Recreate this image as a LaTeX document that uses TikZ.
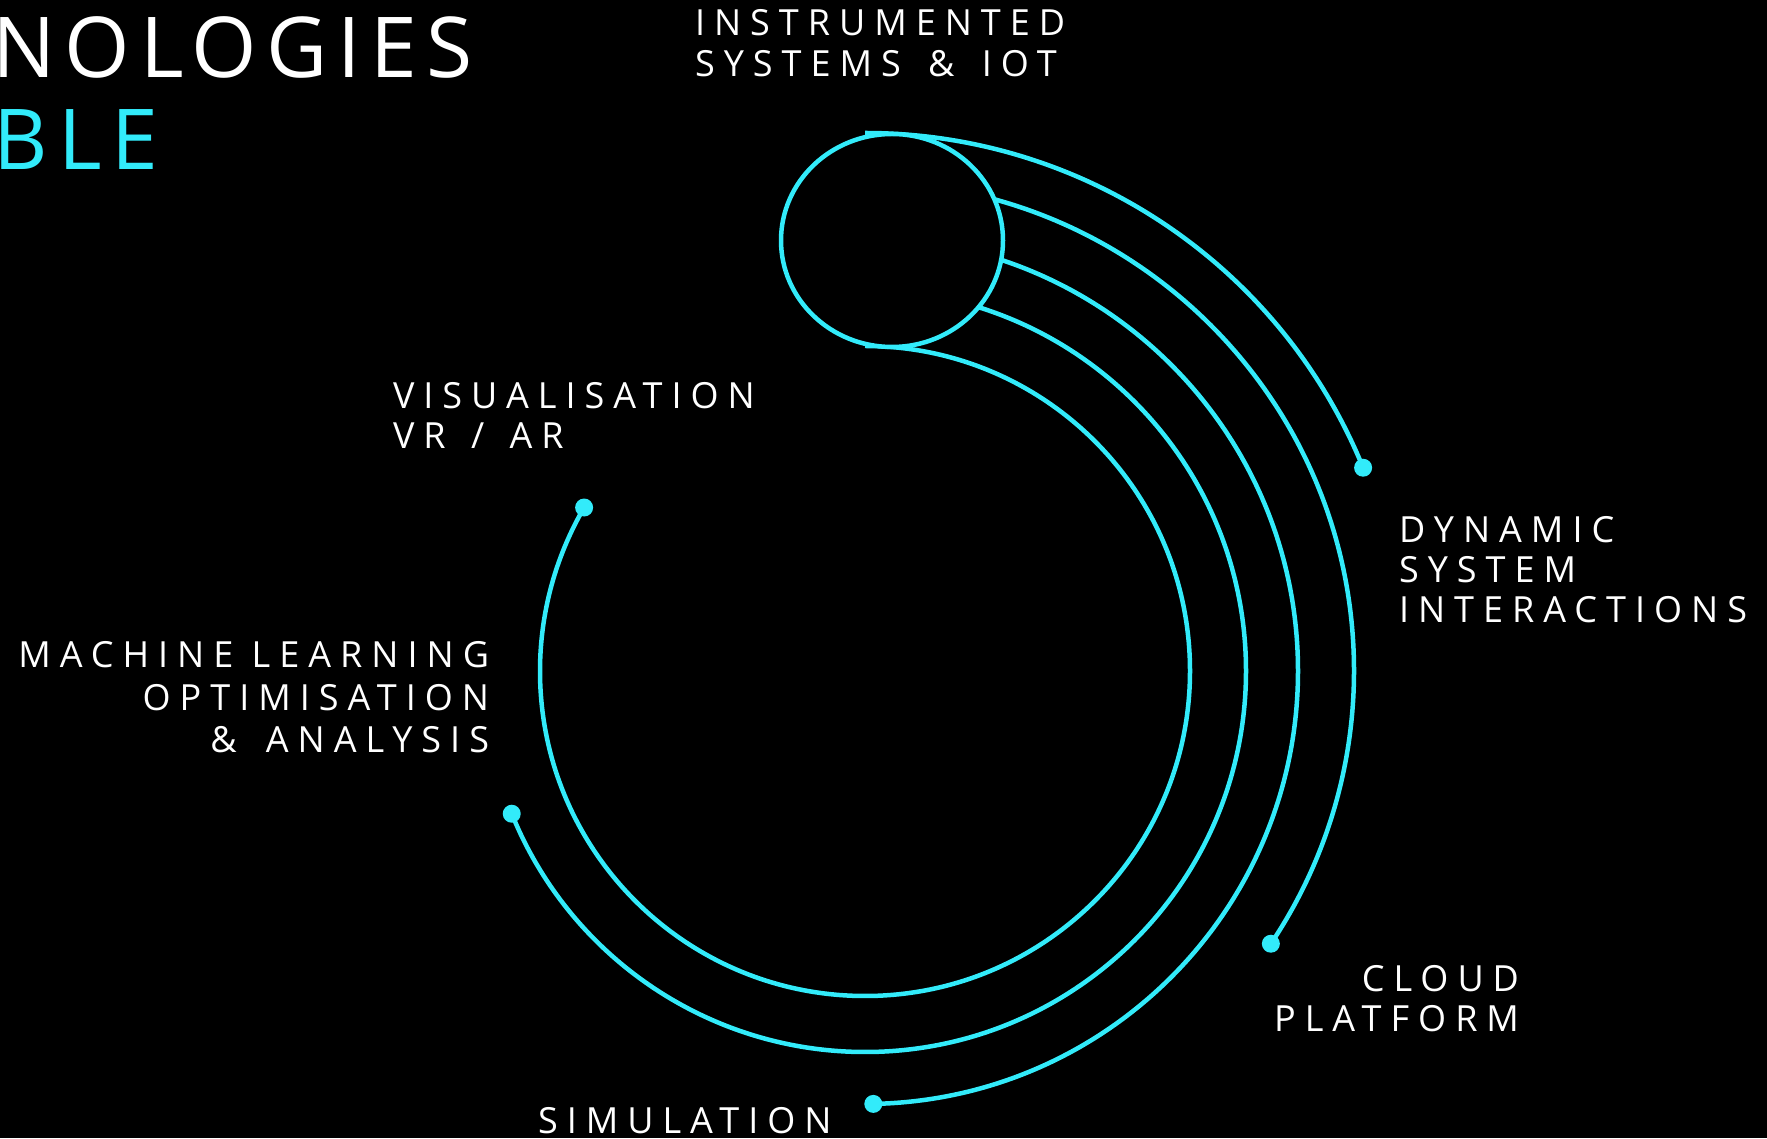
\documentclass[tikz,border=0pt]{standalone}
\usepackage{fontspec}
\setmainfont{Open Sans}
\newfontfamily\lblfont[LetterSpace=25]{Open Sans}
\newfontfamily\ttlfont[LetterSpace=11.5]{Open Sans}
\usetikzlibrary{shapes.geometric,calc}
\definecolor{cy}{RGB}{50,235,250}
\newcommand{\wsp}[1][11pt]{\hspace{#1}}
\begin{document}
\begin{tikzpicture}[x=1pt,y=1pt,
  lbl/.style={font=\lblfont\fontsize{36}{41}\selectfont, text=white, inner sep=0pt, outer sep=0pt},
  ttl/.style={font=\ttlfont\fontsize{84}{90}\selectfont, inner sep=0pt, outer sep=0pt},
  arcline/.style={draw=cy, line width=4.5pt},
  enddot/.style={circle, fill=cy, minimum size=18pt, inner sep=0pt},
  hubstyle/.style={ellipse, draw=cy, line width=4.5pt, fill=black, minimum width=222pt, minimum height=213pt, inner sep=0pt}
]
\fill[black] (0,0) rectangle (1767,1138);
\useasboundingbox (0,0) rectangle (1767,1138);
\coordinate (C) at (865,467);

% title fragments
\node[ttl, text=white, anchor=base west] (t1) at (-8,1060) {NOLOGIES};
\node[ttl, text=cy, anchor=base west] (t2) at (-6,968) {BLE};

% arc start points (on the hub) and end dots
\coordinate (sA) at ($(C)+(90:538)$);
\coordinate (sB) at ($(C)+(90:489)$);
\coordinate (sC) at ($(C)+(90:433)$);
\coordinate (sD) at ($(C)+(90:381)$);
\coordinate (sE) at ($(C)+(90:325)$);

\node[enddot] (dA) at ($(C)+(22.2:538)$) {};
\node[enddot] (dB) at ($(C)+(-33.9:489)$) {};
\node[enddot] (dC) at ($(C)+(-88.9:433)$) {};
\node[enddot] (dD) at ($(C)+(-158:381)$) {};
\node[enddot] (dE) at ($(C)+(-210.2:325)$) {};

\draw[arcline] (sA) arc[start angle=90, end angle=22.2, radius=538];
\draw[arcline] (sB) arc[start angle=90, end angle=-33.9, radius=489];
\draw[arcline] (sC) arc[start angle=90, end angle=-88.9, radius=433];
\draw[arcline] (sD) arc[start angle=90, end angle=-158, radius=381];
\draw[arcline] (sE) arc[start angle=90, end angle=-210.2, radius=325];

\node[hubstyle] (hub) at (892,897.5) {};

% labels
\node[lbl, anchor=base west] (ins1) at (695,1102) {INSTRUMENTED};
\node[lbl, anchor=base west] (ins2) at (695,1061) {SYSTEMS\wsp[9pt]{} \&\wsp[9pt]{} IOT};

\node[lbl, anchor=base west] (dyn1) at (1399,595) {DYNAMIC};
\node[lbl, anchor=base west] (dyn2) at (1399,555) {SYSTEM};
\node[lbl, anchor=base west] (dyn3) at (1399,515) {INTERACTIONS};

\node[lbl, anchor=base east] (cl1) at (1519,146) {CLOUD};
\node[lbl, anchor=base east] (cl2) at (1519,106) {PLATFORM};

\node[lbl, anchor=base west] (sim) at (538,5) {SIMULATION};

\node[lbl, anchor=base east] (ml1) at (489,470) {MACHINE LEARNING};
\node[lbl, anchor=base east] (ml2) at (489,427) {OPTIMISATION};
\node[lbl, anchor=base east] (ml3) at (489,385) {\&\wsp{} ANALYSIS};

\node[lbl, anchor=base west] (vis1) at (393,729) {VISUALISATION};
\node[lbl, anchor=base west] (vis2) at (393,689) {VR\wsp[7pt]{} /\wsp[7pt]{} AR};
\end{tikzpicture}
\end{document}
